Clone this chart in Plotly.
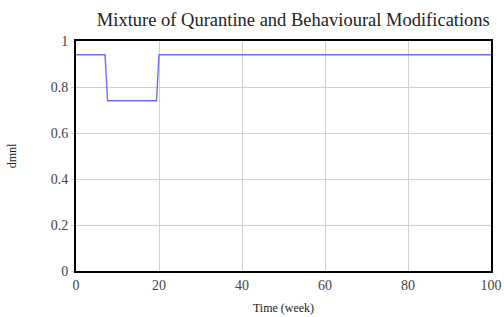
import plotly.graph_objects as go

time_week = [0, 7, 7.6, 19.4, 20, 100]
value_dmnl = [0.94, 0.94, 0.74, 0.74, 0.94, 0.94]
x_ticks = [0, 20, 40, 60, 80, 100]
y_ticks = [0, 0.2, 0.4, 0.6, 0.8, 1]
y_tick_labels = ["0", "0.2", "0.4", "0.6", "0.8", "1"]

fig = go.Figure()
fig.add_trace(go.Scatter(x=time_week, y=value_dmnl, mode="lines",
                         line=dict(color="#6c6cff", width=1.4), showlegend=False))

font = "Liberation Serif, Times New Roman, serif"
fig.update_layout(
    width=504, height=317,
    margin=dict(l=76, r=13, t=41, b=46, autoexpand=False),
    paper_bgcolor="white", plot_bgcolor="white",
    title=dict(text="Mixture of Qurantine and Behavioural Modifications",
               x=0.582, xanchor="center", y=0.937, yanchor="middle",
               font=dict(family=font, size=18.5, color="#222222")),
    font=dict(family=font, color="#333333"),
)
fig.update_xaxes(range=[0, 100], tickvals=x_ticks, showgrid=True, gridcolor="#d0d0d0",
                 gridwidth=1, zeroline=False, showline=True, linecolor="black", linewidth=2,
                 mirror=True, ticks="", tickfont=dict(size=14, color="#444444"),
                 automargin=False,
                 title=dict(text="Time (week)", font=dict(size=12, color="#222222"), standoff=12))
fig.update_yaxes(range=[0, 1], tickvals=y_ticks, ticktext=y_tick_labels, showgrid=True,
                 gridcolor="#d0d0d0", gridwidth=1, zeroline=False, showline=True,
                 linecolor="black", linewidth=2, mirror=True, ticks="outside", ticklen=3,
                 tickcolor="#d0d0d0", tickfont=dict(size=14, color="#444444"),
                 automargin=False,
                 title=dict(text="dmnl", font=dict(size=12, color="#222222"), standoff=32))
fig.write_html("out.html", config={"displayModeBar": False},
               post_script="document.body.style.margin='0';document.body.style.overflow='hidden';")
